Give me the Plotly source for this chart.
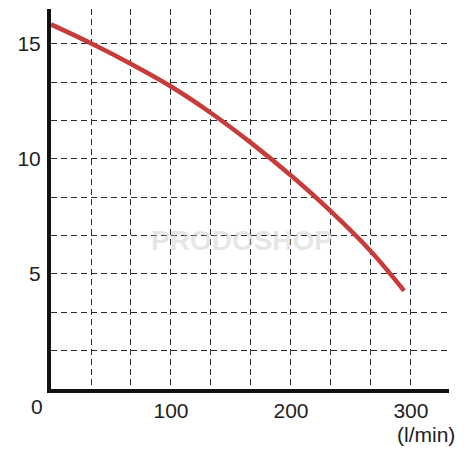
import plotly.graph_objects as go

# Data
flow = [0, 33.3, 66.7, 100, 133.3, 166.7, 200, 233.3, 266.7, 294.3]
head = [15.85, 15.03, 14.13, 13.15, 12.0, 10.7, 9.28, 7.72, 5.98, 4.27]

x_ticks = [100, 200, 300]
x_tick_text = ["100", "200", "300"]
y_ticks = [5, 10, 15]
y_tick_text = ["5", "10", "15"]
x_unit = "(l/min)"
origin_label = "0"
watermark = "PRODOSHOP"

FONT = "Liberation Sans, Arial"
TXT = "#222222"
DASH = "6px,4px"

fig = go.Figure()
fig.add_trace(go.Scatter(
    x=flow, y=head, mode="lines",
    line=dict(color="#c73b3a", width=4.5, shape="spline", smoothing=1.0),
    hoverinfo="skip", showlegend=False,
))

grid_style = dict(showgrid=True, griddash=DASH, gridcolor="#2a2a2a", gridwidth=1.3)

fig.update_xaxes(
    range=[0, 331.7], tickvals=x_ticks, ticktext=x_tick_text,
    showline=True, linecolor="#111111", linewidth=4, zeroline=False,
    ticks="", tickfont=dict(family=FONT, size=21, color=TXT),
    minor=dict(dtick=100/3, tick0=0, showgrid=True, griddash=DASH,
               gridcolor="#2a2a2a", gridwidth=1.3),
    **grid_style,
)
fig.update_yaxes(
    range=[0, 16.52], tickvals=y_ticks, ticktext=y_tick_text,
    showline=True, linecolor="#111111", linewidth=4, zeroline=False,
    ticks="", ticklabelstandoff=2,
    tickfont=dict(family=FONT, size=21, color=TXT),
    minor=dict(dtick=5/3, tick0=0, showgrid=True, griddash=DASH,
               gridcolor="#2a2a2a", gridwidth=1.3),
    **grid_style,
)

fig.add_annotation(text=origin_label, xref="paper", yref="paper", x=-0.035, y=-0.047,
                   xanchor="center", yanchor="middle", showarrow=False,
                   font=dict(family=FONT, size=21, color=TXT))
fig.add_annotation(text=x_unit, xref="paper", yref="paper", x=1.02, y=-0.121,
                   xanchor="right", yanchor="middle", showarrow=False,
                   font=dict(family=FONT, size=21, color=TXT))
fig.add_annotation(text="<b>" + watermark + "</b>", xref="paper", yref="paper", x=0.48, y=0.39,
                   xanchor="center", yanchor="middle", showarrow=False,
                   font=dict(family=FONT, size=28, color="rgba(200,200,200,0.45)"))

fig.update_layout(
    width=475, height=475,
    margin=dict(l=51, r=26, t=9, b=86),
    paper_bgcolor="white", plot_bgcolor="white",
)

fig.write_html("out.html", config={"displayModeBar": False},
               post_script="document.body.style.margin='0px';")
